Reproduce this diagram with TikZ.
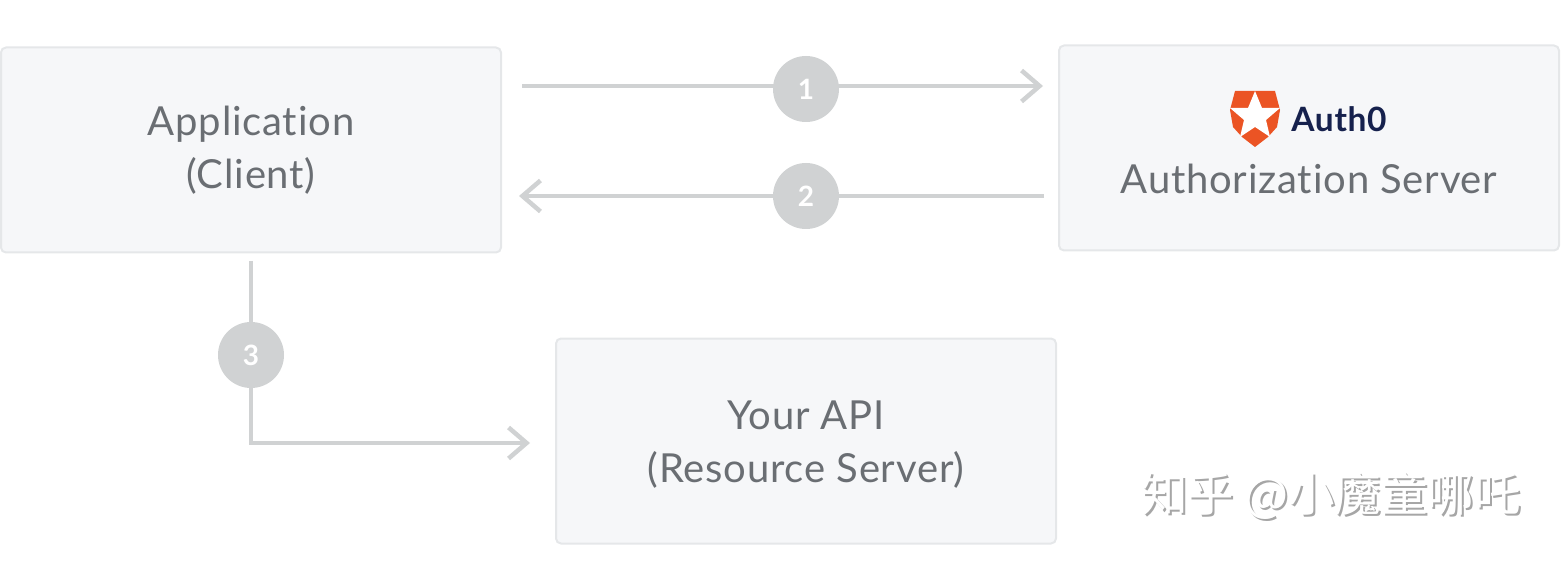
\documentclass[tikz,border=0pt]{standalone}
\usepackage{fontspec}
\usepackage{tikz}
\usetikzlibrary{arrows.meta}
\setmainfont{Lato}[LetterSpace=2,Ligatures=NoCommon]
\newfontfamily\cjkfont{Noto Sans CJK SC}
\definecolor{boxfill}{HTML}{F6F7F9}
\definecolor{boxline}{HTML}{E5E7E9}
\definecolor{conn}{HTML}{D0D2D3}
\definecolor{txt}{HTML}{6A6E73}
\definecolor{logo}{HTML}{EB5424}
\definecolor{navy}{HTML}{16214D}
\begin{document}
\begin{tikzpicture}[x=1pt,y=-1pt,
        b/.style={rectangle, draw=boxline, fill=boxfill, line width=2pt,
                        rounded corners=5pt, minimum width=500pt, minimum height=205pt,
                        inner sep=0pt, align=center, text=txt,
                        font=\fontsize{40}{53}\selectfont},
        n/.style={circle, fill=conn, text=white, inner sep=0pt, minimum width=66pt,
                        font=\bfseries\fontsize{28}{30}\selectfont},
        c/.style={draw=conn, line width=4.5pt},
        a/.style={c, -{Straight Barb[length=18pt,width=31pt,line width=4.5pt]}},
        w/.style={font=\cjkfont\fontsize{46.5}{50}\selectfont}]
    \useasboundingbox (0,0) rectangle (1563,561);
    \node[b] (app) at (251,150) {Application\\(Client)};
    \node[b] (auth) at (1309,148) {\rule{0pt}{92pt}Authorization Server};
    \node[b] (api) at (806,441) {\rule{0pt}{36pt}Your API\\(Resource Server)};
    % free ends of the connectors
    \coordinate (s1) at (522,86);
    \coordinate (e1) at (1043,86);
    \coordinate (s2) at (1044,196);
    \coordinate (e2) at (519,196);
    \coordinate (s3) at (251,261);
    \coordinate (k3) at (251,443);
    \coordinate (e3) at (530,443);
    \draw[a] (s1) -- (e1);
    \draw[a] (s2) -- (e2);
    \draw[a] (s3) -- (k3) -- (e3);
    \node[n] (one) at (806,89) {1};
    \node[n] (two) at (806,196) {2};
    \node[n] (three) at (251,355) {3};
    % logo
    \fill[logo] (1235,91) -- (1275,91) -- (1280,110) -- (1277,127) -- (1268,137)
        -- (1255,147) -- (1242,137) -- (1233,127) -- (1230,110) -- cycle;
    \fill[white] (1255,91) -- (1262,108) -- (1280,108) -- (1266,120) -- (1270,137)
        -- (1255,127) -- (1240,137) -- (1244,120) -- (1230,108) -- (1248,108) -- cycle;
    \node[text=navy, inner sep=0pt, font=\bfseries\fontsize{33.5}{36}\selectfont]
        (brand) at (1339,119) {Auth0};
    % watermark
    \node[w, text=black!35] (markb) at (1333,498) {知乎 @小魔童哪吒};
    \node[w, text=white] (mark) at (1331,496) {知乎 @小魔童哪吒};
\end{tikzpicture}
\end{document}
